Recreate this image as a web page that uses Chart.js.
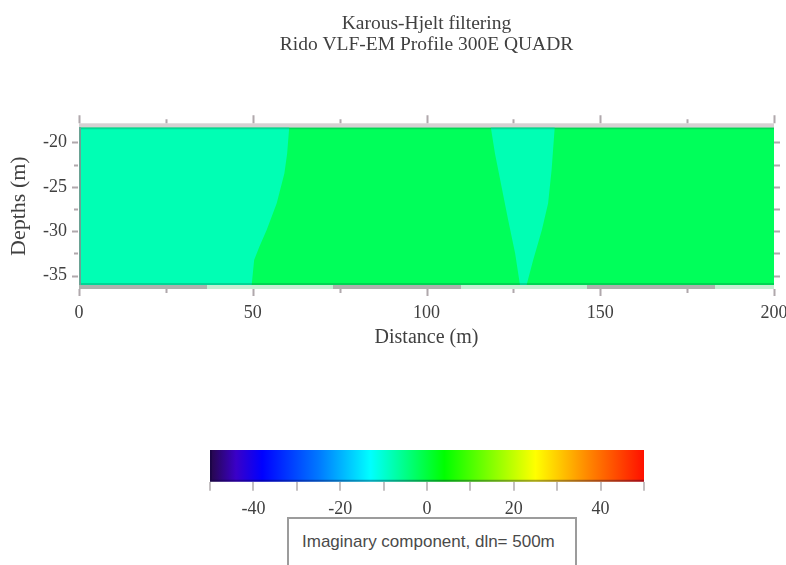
<!DOCTYPE html>
<html>
<head>
<meta charset="utf-8">
<title>Karous-Hjelt filtering</title>
<script src="https://cdn.jsdelivr.net/npm/chart.js@4.4.1/dist/chart.umd.min.js"></script>
<style>
  html, body { margin: 0; padding: 0; background: #fff; width: 786px; height: 565px; overflow: hidden; }
  #main { position: absolute; left: 0; top: 0; }
  #cbar { position: absolute; left: 0; top: 430px; }
  #note {
    position: absolute; left: 287px; top: 517px; width: 290px; height: 70px;
    box-sizing: border-box; border: 2px solid #9c9c9c; background: #fff;
    font: 17px "Liberation Sans", Arial, sans-serif; color: #4a4a4a;
    padding: 13px 0 0 13px; white-space: nowrap;
  }
</style>
</head>
<body>
<canvas id="main" width="786" height="400"></canvas>
<canvas id="cbar" width="786" height="90"></canvas>
<div id="note">Imaginary component, dln= 500m</div>

<script>
// ---- Section data: filtered imaginary (quadrature) component ----
// Filled-contour band values (%)
const bandLevels = [-8, -2];
// Extent of the section
const distanceExtent = [0, 200];
const depthExtent = [-36.05, -18.3];
// Eastern edge of the low-response body on the west side
const westDepths = [-18.3, -21.24, -23.49, -26.86, -29.86, -31.74, -33.24, -36.05];
const westEdgeX  = [60.5, 59.9, 59.1, 56.9, 54.0, 51.9, 50.4, 49.7];
// Narrow low-response trough near 128 m
const troughLeftDepths  = [-18.3, -21.24, -24.99, -28.74, -32.48, -36.05];
const troughLeftX       = [118.5, 119.7, 121.6, 123.5, 125.5, 126.9];
const troughRightDepths = [-18.3, -23.11, -26.86, -29.86, -33.24, -36.05];
const troughRightX      = [136.9, 136.0, 135.0, 133.2, 130.7, 128.8];

// Colour scale
const scaleValues = [-50, -44, -38, -25, -13, 4, 25, 37, 50];
const scaleColors = ['#260848', '#3a00c8', '#0000ff', '#0078ff', '#00ffff', '#00ff00', '#ffff00', '#ff8800', '#ff1000'];

// Labelled ticks
const distanceLabels = [0, 50, 100, 150, 200];
const depthLabels = [-20, -25, -30, -35];
const scaleTickLabels = [-40, -20, 0, 20, 40];

// ---- helpers ----
function hexToRgb(h) {
  const n = parseInt(h.slice(1), 16);
  return [(n >> 16) & 255, (n >> 8) & 255, n & 255];
}
function colourFor(v) {
  if (v <= scaleValues[0]) return scaleColors[0];
  for (let i = 1; i < scaleValues.length; i++) {
    if (v <= scaleValues[i]) {
      const t = (v - scaleValues[i - 1]) / (scaleValues[i] - scaleValues[i - 1]);
      const a = hexToRgb(scaleColors[i - 1]), b = hexToRgb(scaleColors[i]);
      const c = a.map((ch, k) => Math.round(ch + (b[k] - ch) * t));
      return `rgb(${c[0]},${c[1]},${c[2]})`;
    }
  }
  return scaleColors[scaleColors.length - 1];
}

// Polygons built from the boundary arrays
const [dMin, dMax] = depthExtent;
const [xMin, xMax] = distanceExtent;
const backgroundPoly = [
  {x: xMin, y: dMin}, {x: xMax, y: dMin}, {x: xMax, y: dMax}, {x: xMin, y: dMax}, {x: xMin, y: dMin}
];
const westPoly = [{x: xMin, y: dMax}]
  .concat(westDepths.map((d, i) => ({x: westEdgeX[i], y: d})))
  .concat([{x: xMin, y: dMin}, {x: xMin, y: dMax}]);
const troughPoly = troughLeftDepths.map((d, i) => ({x: troughLeftX[i], y: d}))
  .concat(troughRightDepths.map((d, i) => ({x: troughRightX[i], y: d})).reverse());
troughPoly.push(troughPoly[0]);

function band(data, level, order) {
  return {
    data, order,
    showLine: true, fill: 'shape',
    backgroundColor: colourFor(level),
    borderColor: colourFor(level), borderWidth: 0,
    pointRadius: 0, tension: 0
  };
}

const serif = '"Liberation Serif", "Times New Roman", serif';
const textGrey = '#404040';

// Frame, strips and four-sided tick marks around the section
const framePlugin = {
  id: 'sectionFrame',
  afterDatasetsDraw(chart) {
    const {ctx, chartArea: a, scales: {x, y}} = chart;
    const w = a.right - a.left;
    ctx.save();
    ctx.fillStyle = '#d6d0d2';
    ctx.fillRect(a.left, a.top - 4, w, 4);
    ctx.fillStyle = '#c4eed3';
    ctx.fillRect(a.left, a.bottom, w, 4);
    ctx.strokeStyle = '#aeb2ae';
    ctx.lineWidth = 4;
    ctx.setLineDash([128, 126]);
    ctx.beginPath(); ctx.moveTo(a.left, a.bottom + 2); ctx.lineTo(a.right, a.bottom + 2); ctx.stroke();
    ctx.setLineDash([]);

    ctx.lineWidth = 2;
    ctx.strokeStyle = 'rgba(0,90,60,0.25)';
    ctx.beginPath();
    ctx.moveTo(a.left, a.top + 1); ctx.lineTo(a.right, a.top + 1);
    ctx.moveTo(a.left, a.bottom - 1); ctx.lineTo(a.right, a.bottom - 1);
    ctx.stroke();
    ctx.strokeStyle = '#6aa294';
    ctx.beginPath(); ctx.moveTo(a.left + 1, a.top); ctx.lineTo(a.left + 1, a.bottom); ctx.stroke();

    ctx.strokeStyle = '#b0a8ac';
    ctx.beginPath();
    x.ticks.forEach(t => {
      const px = Math.round(x.getPixelForValue(t.value)) + 0.5;
      const major = distanceLabels.includes(t.value);
      ctx.moveTo(px, a.top - 4); ctx.lineTo(px, a.top - (major ? 12 : 8));
      ctx.moveTo(px, a.bottom + 4); ctx.lineTo(px, a.bottom + (major ? 11 : 8));
    });
    y.ticks.forEach(t => {
      const py = Math.round(y.getPixelForValue(t.value)) + 0.5;
      const major = depthLabels.includes(t.value);
      ctx.moveTo(a.left - 1, py); ctx.lineTo(a.left - (major ? 7 : 5), py);
      ctx.moveTo(a.right, py); ctx.lineTo(a.right + 6, py);
    });
    ctx.stroke();
    ctx.restore();
  }
};

new Chart(document.getElementById('main'), {
  type: 'scatter',
  data: {
    datasets: [
      band(troughPoly, bandLevels[0], 1),
      band(westPoly, bandLevels[0], 1),
      band(backgroundPoly, bandLevels[1], 2)
    ]
  },
  options: {
    responsive: false,
    animation: false,
    events: [],
    layout: { padding: { left: 0, right: 12, top: 0, bottom: 0 } },
    plugins: {
      legend: { display: false },
      tooltip: { enabled: false },
      title: {
        display: true,
        fullSize: false,
        text: ['Karous-Hjelt filtering', 'Rido VLF-EM Profile 300E QUADR'],
        color: textGrey,
        font: { family: serif, size: 19.5, weight: 'normal', lineHeight: 21 / 19.5 },
        padding: { top: 13, bottom: 72.3 }
      }
    },
    scales: {
      x: {
        type: 'linear', position: 'bottom',
        min: xMin, max: xMax,
        grid: { display: false, drawTicks: false },
        border: { display: false },
        ticks: {
          stepSize: 25, autoSkip: false, maxRotation: 0,
          callback: v => distanceLabels.includes(v) ? String(v) : '',
          color: textGrey, font: { family: serif, size: 18 }, padding: 17
        },
        title: {
          display: true, text: 'Distance (m)', color: textGrey,
          font: { family: serif, size: 20 }, padding: { top: 0, bottom: 50 }
        },
        afterFit(s) { s.height = 115; s.paddingRight = 0; s.paddingLeft = 0; }
      },
      y: {
        type: 'linear', position: 'left',
        min: dMin, max: dMax,
        grid: { display: false, drawTicks: false },
        border: { display: false },
        ticks: {
          stepSize: 2.5, autoSkip: false, includeBounds: false,
          callback: v => depthLabels.includes(v) ? String(v) : '',
          color: textGrey, font: { family: serif, size: 18 }, padding: 12
        },
        title: {
          display: true, text: 'Depths (m)', color: textGrey,
          font: { family: serif, size: 22 }, padding: { top: 5.8, bottom: 0 }
        },
        afterFit(s) { s.width = 79; s.paddingTop = 0; s.paddingBottom = 0; }
      }
    }
  },
  plugins: [framePlugin]
});

// Colour scale bar drawn against its own value axis
const gradientPlugin = {
  id: 'gradientBar',
  beforeDatasetsDraw(chart) {
    const {ctx, chartArea: a, scales: {x}} = chart;
    const x0 = x.getPixelForValue(scaleValues[0]);
    const x1 = x.getPixelForValue(scaleValues[scaleValues.length - 1]);
    const g = ctx.createLinearGradient(x0, 0, x1, 0);
    scaleValues.forEach((v, i) => g.addColorStop((x.getPixelForValue(v) - x0) / (x1 - x0), scaleColors[i]));
    ctx.save();
    ctx.fillStyle = g;
    ctx.fillRect(a.left, a.top, a.right - a.left, a.bottom - a.top);
    ctx.strokeStyle = 'rgba(10,0,60,0.35)';
    ctx.lineWidth = 2;
    ctx.beginPath();
    ctx.moveTo(a.left, a.bottom - 1); ctx.lineTo(a.right, a.bottom - 1);
    ctx.moveTo(a.left + 1, a.top); ctx.lineTo(a.left + 1, a.bottom);
    ctx.stroke();
    ctx.restore();
  }
};

new Chart(document.getElementById('cbar'), {
  type: 'scatter',
  data: { datasets: [] },
  options: {
    responsive: false,
    animation: false,
    events: [],
    layout: { padding: { left: 210, right: 142, top: 20, bottom: 0 } },
    plugins: { legend: { display: false }, tooltip: { enabled: false } },
    scales: {
      x: {
        type: 'linear', position: 'bottom',
        min: scaleValues[0], max: scaleValues[scaleValues.length - 1],
        grid: { display: true, drawOnChartArea: false, drawTicks: true, tickLength: 9, color: '#c4c0c2', lineWidth: 2 },
        border: { display: false },
        ticks: {
          stepSize: 10, autoSkip: false, maxRotation: 0,
          callback: v => scaleTickLabels.includes(v) ? String(v) : '',
          color: textGrey, font: { family: serif, size: 18 }, padding: 8
        },
        afterFit(s) { s.height = 38.3; s.paddingLeft = 0; s.paddingRight = 0; }
      },
      y: { display: false, min: 0, max: 1 }
    }
  },
  plugins: [gradientPlugin]
});
</script>
</body>
</html>
